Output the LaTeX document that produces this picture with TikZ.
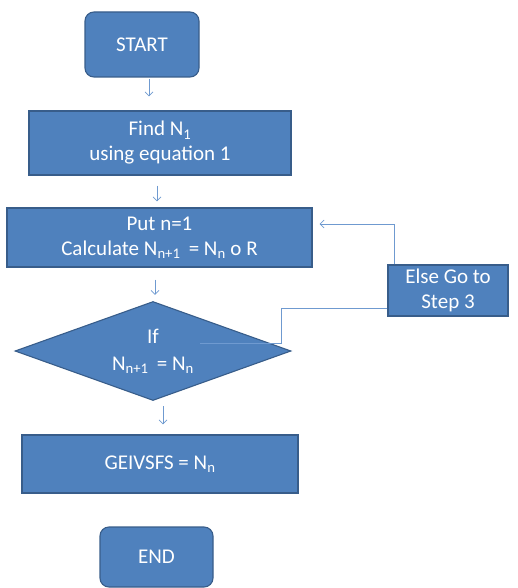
\documentclass[tikz,border=0pt]{standalone}
\usepackage{fontspec}
\setmainfont{Carlito}
\usetikzlibrary{shapes.geometric,arrows.meta,calc}
\definecolor{boxfill}{HTML}{4F81BD}
\definecolor{boxline}{HTML}{385D8A}
\definecolor{arrcol}{HTML}{6F9AD0}
\begin{document}
\begin{tikzpicture}[x=1pt,y=-1pt,
  box/.style={rectangle,draw=boxline,fill=boxfill,line width=1.1pt,text=white,align=center,inner sep=0pt,font=\fontsize{21}{25}\selectfont},
  term/.style={box,rounded corners=9pt},
  cond/.style={box,diamond,aspect=2.8},
  arr/.style={draw=arrcol,line width=0.7pt,-{Straight Barb[length=4pt,width=8pt]}},
  link/.style={draw=arrcol,line width=0.9pt}]
\useasboundingbox (0,0) rectangle (517,588);
\node[term,minimum width=114pt,minimum height=65pt] (start) at (142,44.5) {START};
\node[box,minimum width=262pt,minimum height=64pt] (find) at (160,143) {Find N\textsubscript{1}\\using equation 1};
\node[box,minimum width=305pt,minimum height=59pt] (put) at (159.5,237.5) {Put n=1\\Calculate N\textsubscript{n+1} \,= N\textsubscript{n} o R};
\node[box,minimum width=120pt,minimum height=51pt] (else) at (448,290.5) {Else Go to\\Step 3};
\node[cond,minimum width=276pt,minimum height=99pt] (if) at (153,351) {If\\[2pt]N\textsubscript{n+1} \,= N\textsubscript{n}};
\node[box,minimum width=276pt,minimum height=58pt] (geiv) at (160,464) {GEIVSFS = N\textsubscript{n}};
\node[term,minimum width=113pt,minimum height=60pt] (end) at (156.5,557) {END};
% vertical arrows
\draw[arr] ([xshift=7pt,yshift=-1pt]start.south) -- ([xshift=-11pt,yshift=14pt]find.north);
\draw[arr] ([xshift=-3pt,yshift=-10pt]find.south) -- ([xshift=-2.5pt,yshift=6pt]put.north);
\draw[arr] ([xshift=-4.5pt,yshift=-12pt]put.south) -- ([xshift=2pt,yshift=6pt]if.north);
\draw[arr] ([xshift=10pt,yshift=-5pt]if.south) -- ([xshift=3pt,yshift=10pt]geiv.north);
% loop back
\coordinate (loopup) at (394,224);
\draw[arr] ([xshift=-54pt]else.north) -- (loopup) -- ([xshift=7pt]put.east |- loopup);
\coordinate (bend) at (281,308);
\draw[link] ([yshift=-17.5pt]else.west) -- (bend) -- (281,343) -- (200,343);
\end{tikzpicture}
\end{document}
